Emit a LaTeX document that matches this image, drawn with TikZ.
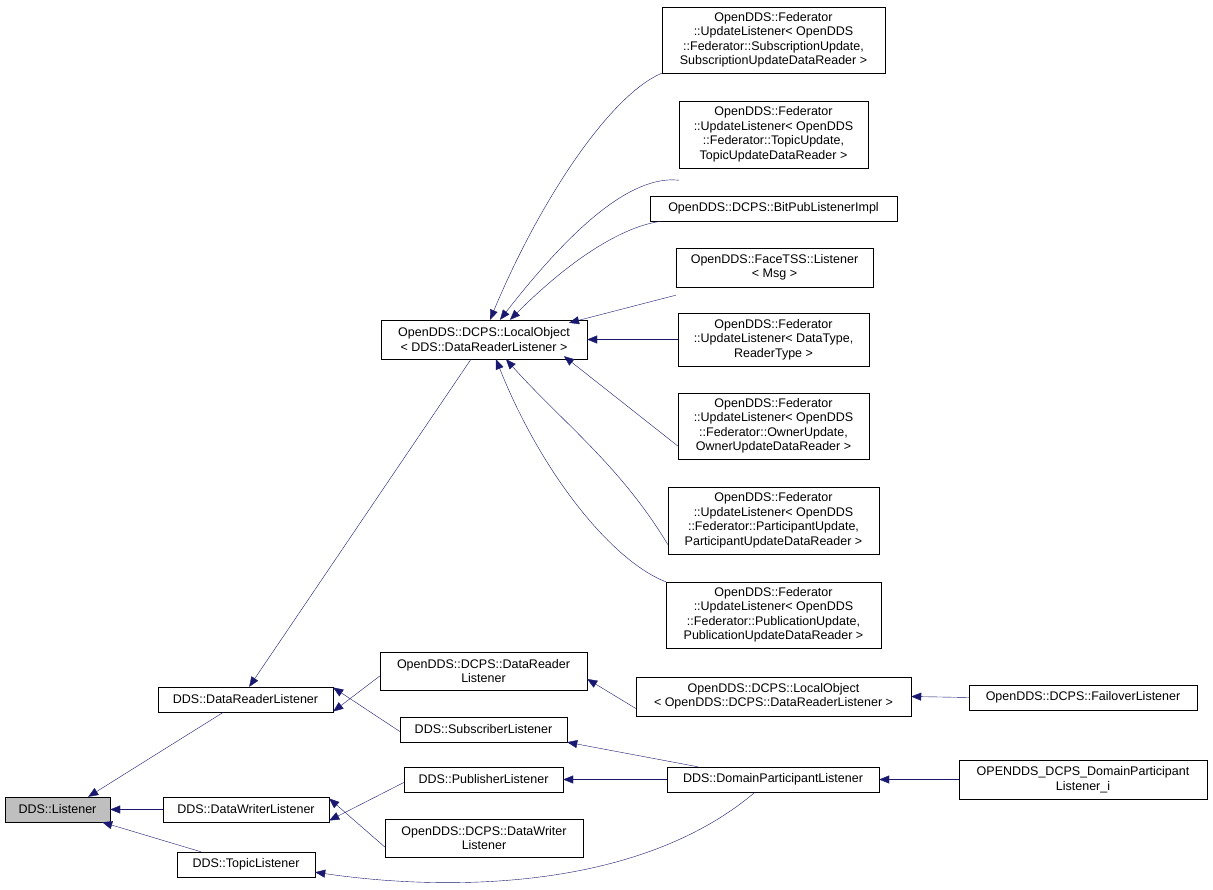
\documentclass[tikz,border=0pt]{standalone}
\usepackage{fontspec}
\setmainfont{Liberation Sans}
\usetikzlibrary{arrows.meta}
\definecolor{edge}{HTML}{191970}
\begin{document}
\begin{tikzpicture}[x=1pt,y=-1pt,
  box/.style={draw=black,fill=white,align=center,inner sep=0pt,font=\fontsize{12.5}{14.5}\selectfont},
  e/.style={draw=edge,thin,{Triangle[width=8pt,length=10pt,fill=edge]}-}]
\useasboundingbox[fill=white] (0,0) rectangle (1213,890);
\node[box,fill={rgb,255:red,191;green,191;blue,191},minimum width=105,minimum height=25] (lis) at (57.5,809.5) {DDS::Listener};
\node[box,minimum width=175,minimum height=25] (drl) at (245.5,699.5) {DDS::DataReaderListener};
\node[box,minimum width=166,minimum height=25] (dwl) at (246,809.5) {DDS::DataWriterListener};
\node[box,minimum width=138,minimum height=25] (tl) at (246,864.5) {DDS::TopicListener};
\node[box,minimum width=206,minimum height=39] (lo) at (484,339.5) {OpenDDS::DCPS::LocalObject\\{<} DDS::DataReaderListener {>}};
\node[box,minimum width=207,minimum height=38] (cdrl) at (483.5,671) {OpenDDS::DCPS::DataReader\\Listener};
\node[box,minimum width=167,minimum height=25] (sl) at (483.5,729.5) {DDS::SubscriberListener};
\node[box,minimum width=159,minimum height=25] (pl) at (483.5,779.5) {DDS::PublisherListener};
\node[box,minimum width=198,minimum height=38] (cdwl) at (484,838) {OpenDDS::DCPS::DataWriter\\Listener};
\node[box,minimum width=223,minimum height=66] (f1) at (773.5,40) {OpenDDS::Federator\\::UpdateListener{<} OpenDDS\\::Federator::SubscriptionUpdate,\\SubscriptionUpdateDataReader {>}};
\node[box,minimum width=189,minimum height=67] (f2) at (773.5,134.5) {OpenDDS::Federator\\::UpdateListener{<} OpenDDS\\::Federator::TopicUpdate,\\TopicUpdateDataReader {>}};
\node[box,minimum width=247,minimum height=25] (bp) at (773.5,208.5) {OpenDDS::DCPS::BitPubListenerImpl};
\node[box,minimum width=197,minimum height=39] (ft) at (774.5,267.5) {OpenDDS::FaceTSS::Listener\\{<} Msg {>}};
\node[box,minimum width=191,minimum height=53] (f3) at (773.5,339.5) {OpenDDS::Federator\\::UpdateListener{<} DataType,\\ReaderType {>}};
\node[box,minimum width=191,minimum height=66] (f4) at (773.5,426) {OpenDDS::Federator\\::UpdateListener{<} OpenDDS\\::Federator::OwnerUpdate,\\OwnerUpdateDataReader {>}};
\node[box,minimum width=211,minimum height=67] (f5) at (773.5,520.5) {OpenDDS::Federator\\::UpdateListener{<} OpenDDS\\::Federator::ParticipantUpdate,\\ParticipantUpdateDataReader {>}};
\node[box,minimum width=215,minimum height=66] (f6) at (773.5,615) {OpenDDS::Federator\\::UpdateListener{<} OpenDDS\\::Federator::PublicationUpdate,\\PublicationUpdateDataReader {>}};
\node[box,minimum width=275,minimum height=39] (lo2) at (773.5,696.5) {OpenDDS::DCPS::LocalObject\\{<} OpenDDS::DCPS::DataReaderListener {>}};
\node[box,minimum width=212,minimum height=25] (dpl) at (773,779.5) {DDS::DomainParticipantListener};
\node[box,minimum width=228,minimum height=25] (fo) at (1083,697.5) {OpenDDS::DCPS::FailoverListener};
\node[box,minimum width=248,minimum height=39] (odp) at (1083,779.5) {OPENDDS\_DCPS\_DomainParticipant\\Listener\_i};
% edges
\draw[e] (lis.north east) ++(-22,0) coordinate (a1) (a1) -- ([xshift=-22]drl.south);
\draw[e] (lis.east) -- (dwl.west);
\draw[e] ([xshift=-8]lis.south east) -- ([xshift=-45]tl.north);
\draw[e] ([xshift=-84]drl.north east) -- ([xshift=-13]lo.south);
\draw[e] ([yshift=-12]drl.east) -- ([yshift=-5]cdrl.west);
\draw[e] ([yshift=12]drl.east) -- ([yshift=-2]sl.west);
\draw[e] ([yshift=-11]dwl.east) -- ([yshift=-3]pl.west);
\draw[e] ([yshift=11]dwl.east) -- ([yshift=-9]cdwl.west);
\draw[e] ([yshift=-8]cdrl.east) -- ([yshift=-12]lo2.west);
\draw[e] (lo2.east) -- (fo.west);
\draw[e] (sl.south east) -- ([xshift=-75]dpl.north);
\draw[e] (pl.east) -- (dpl.west);
\draw[e] (dpl.east) -- (odp.west);
\draw[e] ([yshift=5]tl.south east) .. controls (450,892) and (640,890) .. ([xshift=-18]dpl.south);
\draw[e] ([xshift=6]lo.north) .. controls (540,200) and (610,95) .. (f1.south west);
\draw[e] ([xshift=16]lo.north) .. controls (570,230) and (630,175) .. ([yshift=-12]f2.south west);
\draw[e] ([xshift=26]lo.north) .. controls (580,250) and (630,225) .. ([xshift=12]bp.south west);
\draw[e] ([xshift=85,yshift=-3]lo.north) -- ([yshift=-8]ft.south west);
\draw[e] (lo.east) -- (f3.west);
\draw[e] ([xshift=80,yshift=3]lo.south) -- ([yshift=-20]f4.west);
\draw[e] ([xshift=22]lo.south) .. controls (560,420) and (620,465) .. ([yshift=-24]f5.west);
\draw[e] ([xshift=12]lo.south) .. controls (540,470) and (610,560) .. (f6.north west);
\end{tikzpicture}
\end{document}
